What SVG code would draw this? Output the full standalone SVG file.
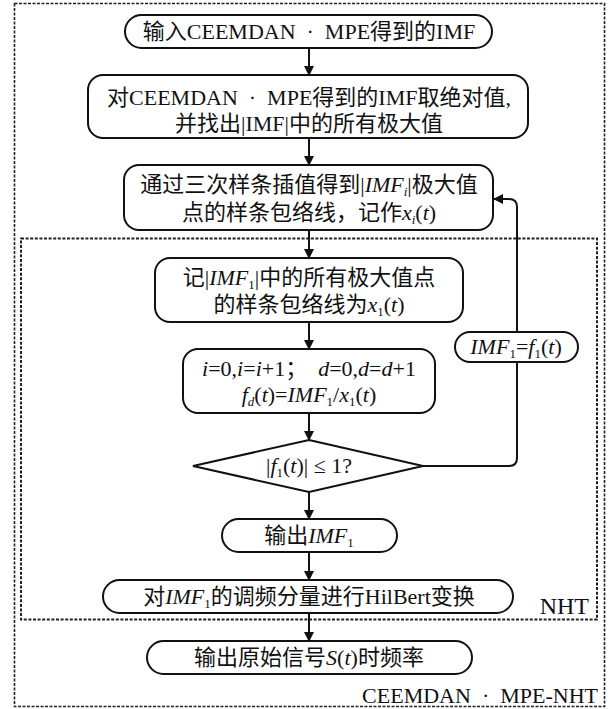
<svg xmlns="http://www.w3.org/2000/svg" width="608" height="709" viewBox="0 0 608 709">
<style>
text{font-family:'Liberation Serif','Noto Sans CJK SC',serif;font-size:22px;fill:#111;text-anchor:middle}
.box{fill:#fff;stroke:#111;stroke-width:2}
.con{fill:none;stroke:#111;stroke-width:2}
.i{font-style:italic}
.s{font-size:13px}
.outer{fill:none;stroke:#222;stroke-width:1.6;stroke-dasharray:3 1.5}
.inner{fill:none;stroke:#222;stroke-width:2;stroke-dasharray:3 1.6}
</style>
<defs>
<marker id="ah" markerWidth="10" markerHeight="12" refX="9" refY="5" orient="auto" markerUnits="userSpaceOnUse">
<path d="M0,0 L10,5 L0,10 Z" fill="#111"/>
</marker>
</defs>
<rect class="outer" x="14.5" y="3.5" width="590" height="703"/>
<rect class="inner" x="21" y="238.5" width="576" height="381"/>
<g id="connectors">
<line class="con" x1="309" y1="48" x2="309" y2="75" marker-end="url(#ah)"/>
<line class="con" x1="309" y1="138" x2="309" y2="165" marker-end="url(#ah)"/>
<line class="con" x1="309" y1="230" x2="309" y2="258" marker-end="url(#ah)"/>
<line class="con" x1="309" y1="322" x2="309" y2="349" marker-end="url(#ah)"/>
<line class="con" x1="309" y1="413" x2="309" y2="440" marker-end="url(#ah)"/>
<line class="con" x1="309" y1="492" x2="309" y2="519" marker-end="url(#ah)"/>
<line class="con" x1="309" y1="552" x2="309" y2="580" marker-end="url(#ah)"/>
<line class="con" x1="309" y1="613" x2="309" y2="641" marker-end="url(#ah)"/>
<path class="con" d="M423,466 H509 Q517,466 517,458 V362"/>
<path class="con" d="M517,332 V207 Q517,199 509,199 H494" marker-end="url(#ah)"/>
</g>
<g id="n1">
<rect class="box" x="125" y="15" width="367" height="33" rx="16.5"/>
<text x="309" y="39">输入CEEMDAN&#8194;·&#8194;MPE得到的IMF</text>
</g>
<g id="n2">
<rect class="box" x="88" y="75" width="440" height="63" rx="15"/>
<text x="309" y="105">对CEEMDAN&#8194;·&#8194;MPE得到的IMF取绝对值,</text>
<text x="309" y="131">并找出|IMF|中的所有极大值</text>
</g>
<g id="n3">
<rect class="box" x="124" y="165" width="369" height="65" rx="15"/>
<text x="309" y="192">通过三次样条插值得到|<tspan class="i">IMF</tspan><tspan class="s i" dy="4">i</tspan><tspan dy="-4">|极大值</tspan></text>
<text x="309" y="220">点的样条包络线，记作<tspan class="i">x</tspan><tspan class="s i" dy="4">i</tspan><tspan dy="-4">(</tspan><tspan class="i">t</tspan>)</text>
</g>
<g id="n4">
<rect class="box" x="155" y="258" width="308" height="64" rx="15"/>
<text x="309" y="285">记|<tspan class="i">IMF</tspan><tspan class="s" dy="4">1</tspan><tspan dy="-4">|中的所有极大值点</tspan></text>
<text x="309" y="312">的样条包络线为<tspan class="i">x</tspan><tspan class="s" dy="4">1</tspan><tspan dy="-4">(</tspan><tspan class="i">t</tspan>)</text>
</g>
<g id="n5">
<rect class="box" x="183" y="349" width="252" height="64" rx="15"/>
<text x="309" y="376"><tspan class="i">i</tspan>=0,<tspan class="i">i</tspan>=<tspan class="i">i</tspan>+1；&#8194;<tspan class="i">d</tspan>=0,<tspan class="i">d</tspan>=<tspan class="i">d</tspan>+1</text>
<text x="309" y="402"><tspan class="i">f</tspan><tspan class="s i" dy="4">d</tspan><tspan dy="-4">(</tspan><tspan class="i">t</tspan>)=<tspan class="i">IMF</tspan><tspan class="s" dy="4">1</tspan><tspan dy="-4">/</tspan><tspan class="i">x</tspan><tspan class="s" dy="4">1</tspan><tspan dy="-4">(</tspan><tspan class="i">t</tspan>)</text>
</g>
<g id="n6">
<polygon class="box" points="309,440 423,466 309,492 193,466"/>
<text x="309" y="473">|<tspan class="i">f</tspan><tspan class="s" dy="4">1</tspan><tspan dy="-4">(</tspan><tspan class="i">t</tspan>)| ≤ 1?</text>
</g>
<g id="n7">
<rect class="box" x="455" y="332" width="123" height="30" rx="15"/>
<text x="516" y="354"><tspan class="i">IMF</tspan><tspan class="s" dy="4">1</tspan><tspan dy="-4">=</tspan><tspan class="i">f</tspan><tspan class="s" dy="4">1</tspan><tspan dy="-4">(</tspan><tspan class="i">t</tspan>)</text>
</g>
<g id="n8">
<rect class="box" x="222" y="519" width="175" height="33" rx="16.5"/>
<text x="309" y="543">输出<tspan class="i">IMF</tspan><tspan class="s" dy="4">1</tspan></text>
</g>
<g id="n9">
<rect class="box" x="103" y="580" width="410" height="33" rx="16.5"/>
<text x="309" y="604">对<tspan class="i">IMF</tspan><tspan class="s" dy="4">1</tspan><tspan dy="-4">的调频分量进行HilBert变换</tspan></text>
</g>
<g id="n10">
<rect class="box" x="147" y="641" width="325" height="33" rx="16.5"/>
<text x="309" y="665">输出原始信号<tspan class="i">S</tspan>(<tspan class="i">t</tspan>)时频率</text>
</g>
<g id="labels">
<text x="589" y="614" style="text-anchor:end;font-size:24px">NHT</text>
<text x="598" y="703" style="text-anchor:end">CEEMDAN&#8194;·&#8194;MPE-NHT</text>
</g>
</svg>
